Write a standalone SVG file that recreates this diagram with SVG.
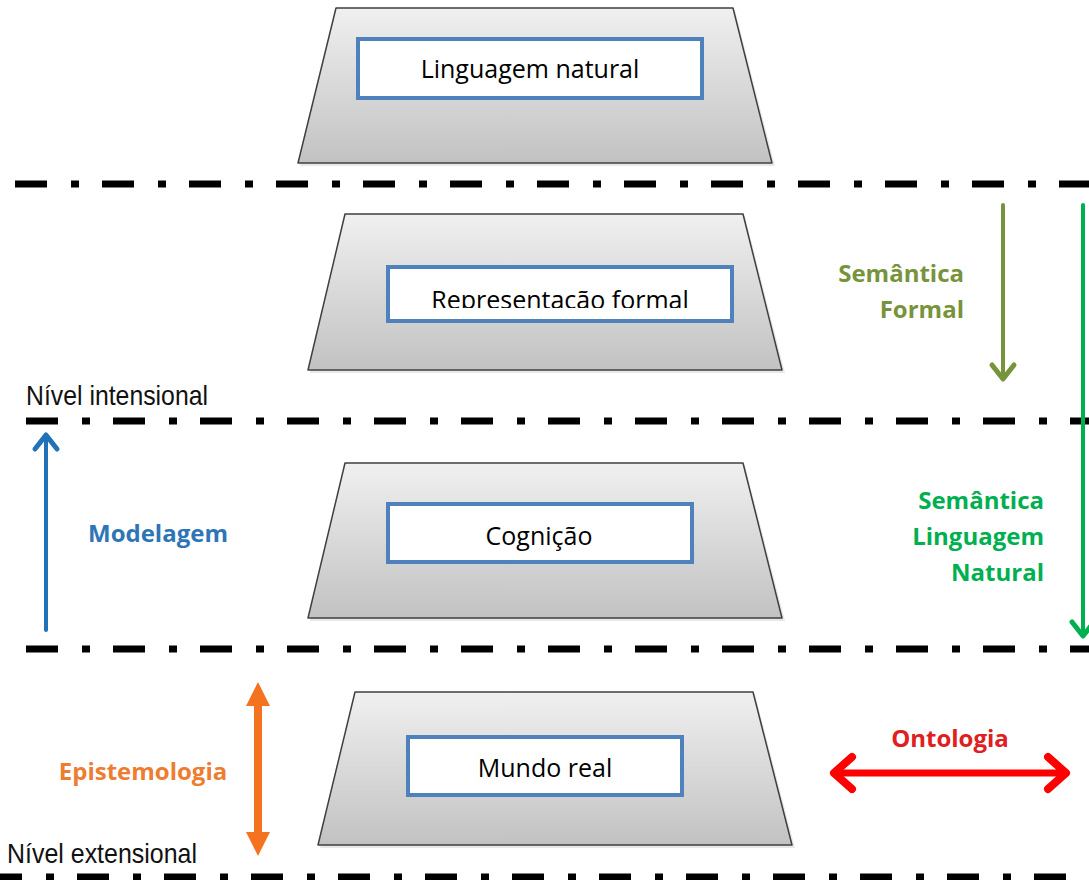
<svg xmlns="http://www.w3.org/2000/svg" width="1089" height="880" viewBox="0 0 1089 880">
<defs>
<linearGradient id="trap" x1="0" y1="0" x2="0" y2="1">
<stop offset="0" stop-color="#f0f0f0"/>
<stop offset="1" stop-color="#c2c2c2"/>
</linearGradient>
<clipPath id="clipRep"><rect x="380" y="260" width="360" height="48"/></clipPath>
<style>
.trap{fill:url(#trap);stroke:#3f3f3f;stroke-width:1.5;stroke-linejoin:round}
.shadow{fill:#d8d8d8;opacity:0.6}
.box{fill:#ffffff;stroke:#4f81bd;stroke-width:4}
.boxt{font-family:"Open Sans","Noto Sans",sans-serif;font-size:25px;fill:#000000;text-anchor:middle}
.lvl{font-family:"Liberation Sans",Arial,sans-serif;font-size:28px;fill:#111111}
.lab{font-family:"Open Sans","Noto Sans",sans-serif;font-size:24px;font-weight:bold}
.dd{stroke:#000000;stroke-width:7;stroke-dasharray:32 24 8 23;fill:none}
.arr{fill:none;stroke-linecap:round;stroke-linejoin:round}
</style>
</defs>
<rect width="1089" height="880" fill="#ffffff"/>

<g id="separators">
<line class="dd" x1="15" y1="184" x2="1089" y2="184"/>
<line class="dd" x1="26" y1="421" x2="1089" y2="421"/>
<line class="dd" x1="26" y1="649" x2="1089" y2="649"/>
<line class="dd" x1="0" y1="877" x2="1089" y2="877" stroke-width="9" stroke-dashoffset="10"/>
</g>

<g id="node-linguagem-natural">
<polygon class="shadow" points="338,10 735,10 775,166 300,166"/>
<polygon class="trap" points="336,8 733,8 772,163 298,163"/>
<rect class="box" x="358" y="39" width="344" height="59"/>
<text class="boxt" x="530" y="78">Linguagem natural</text>
</g>

<g id="node-representacao-formal">
<polygon class="shadow" points="347,216 745,216 785,373 310,373"/>
<polygon class="trap" points="345,214 743,214 782,370 308,370"/>
<rect class="box" x="388" y="267" width="344" height="54"/>
<text class="boxt" x="560" y="309" clip-path="url(#clipRep)">Representacão formal</text>
</g>

<g id="node-cognicao">
<polygon class="shadow" points="347,465 745,465 785,621 310,621"/>
<polygon class="trap" points="345,463 743,463 782,618 308,618"/>
<rect class="box" x="388" y="504" width="304" height="58"/>
<text class="boxt" x="539" y="545">Cognição</text>
</g>

<g id="node-mundo-real">
<polygon class="shadow" points="357,694 755,694 795,848 320,848"/>
<polygon class="trap" points="355,692 753,692 792,845 318,845"/>
<rect class="box" x="408" y="737" width="274" height="58"/>
<text class="boxt" x="545" y="777">Mundo real</text>
</g>

<g id="level-labels">
<text class="lvl" x="26" y="405" textLength="182" lengthAdjust="spacingAndGlyphs">Nível intensional</text>
<text class="lvl" x="7" y="863" textLength="190" lengthAdjust="spacingAndGlyphs">Nível extensional</text>
</g>

<g id="connectors">
<g id="modelagem" stroke="#2272b9">
<line class="arr" x1="46" y1="630" x2="46" y2="436" stroke-width="4"/>
<polyline class="arr" points="35,449 46,435 57,449" stroke-width="5"/>
</g>
<g id="semantica-formal" stroke="#77933c">
<line class="arr" x1="1003" y1="205" x2="1003" y2="378" stroke-width="4"/>
<polyline class="arr" points="992,365 1003,379 1014,365" stroke-width="5"/>
</g>
<g id="semantica-ln" stroke="#00b050">
<line class="arr" x1="1083" y1="205" x2="1083" y2="635" stroke-width="4"/>
<polyline class="arr" points="1072,622 1083,636 1094,622" stroke-width="5"/>
</g>
<g id="ontologia" stroke="#ff0000">
<line class="arr" x1="834" y1="773" x2="1066" y2="773" stroke-width="7"/>
<polyline class="arr" points="852,757 834,773 852,789" stroke-width="8"/>
<polyline class="arr" points="1048,757 1066,773 1048,789" stroke-width="8"/>
</g>
<g id="epistemologia" fill="#f47321">
<rect x="254" y="700" width="8" height="138"/>
<polygon points="258,682 246,706 270,706"/>
<polygon points="258,856 246,832 270,832"/>
</g>
</g>

<g id="arrow-labels">
<text class="lab" x="158" y="542" fill="#2e75b6" text-anchor="middle">Modelagem</text>
<text class="lab" x="143" y="780" fill="#ed7d31" text-anchor="middle">Epistemologia</text>
<text class="lab" x="950" y="747" fill="#e02020" text-anchor="middle">Ontologia</text>
<text class="lab" fill="#77933c" text-anchor="end"><tspan x="964" y="282">Semântica</tspan><tspan x="964" y="318">Formal</tspan></text>
<text class="lab" fill="#00b050" text-anchor="end"><tspan x="1044" y="509">Semântica</tspan><tspan x="1044" y="545">Linguagem</tspan><tspan x="1044" y="581">Natural</tspan></text>
</g>
</svg>
